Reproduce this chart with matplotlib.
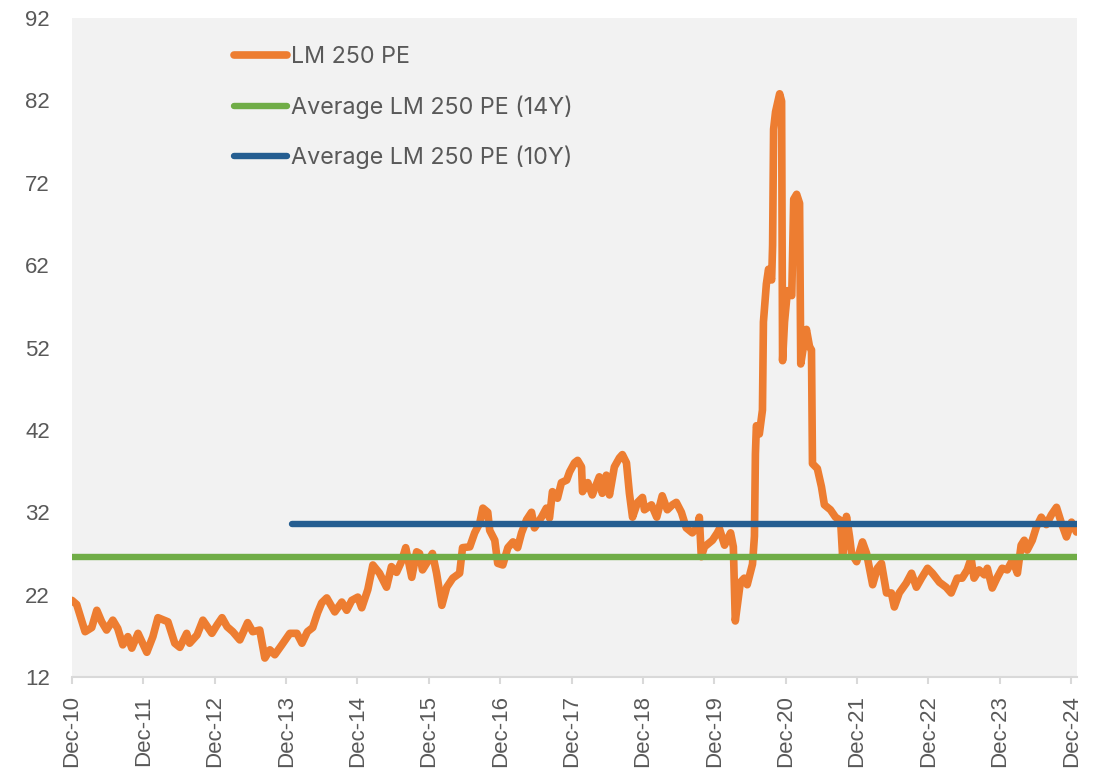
import matplotlib
matplotlib.use("Agg")
import matplotlib.pyplot as plt
import pandas as pd

# ---------------- data ----------------
pe_dates = [
    "2010-12-01", "2010-12-25", "2011-02-06", "2011-03-12", "2011-04-07", "2011-05-02", "2011-05-27",
    "2011-06-28", "2011-07-23", "2011-08-18", "2011-09-13", "2011-10-03", "2011-11-04", "2011-12-19",
    "2012-01-19", "2012-02-14", "2012-04-05", "2012-05-10", "2012-06-05", "2012-07-10", "2012-07-25",
    "2012-09-01", "2012-10-01", "2012-11-16", "2012-12-12", "2013-01-07", "2013-02-02", "2013-03-03",
    "2013-04-08", "2013-05-18", "2013-06-13", "2013-07-19", "2013-08-14", "2013-09-09", "2013-10-04",
    "2013-11-09", "2013-12-20", "2014-01-25", "2014-02-20", "2014-03-20", "2014-04-16", "2014-05-11",
    "2014-06-01", "2014-06-27", "2014-08-07", "2014-09-12", "2014-10-07", "2014-11-02", "2014-12-03",
    "2014-12-23", "2015-01-23", "2015-02-18", "2015-03-24", "2015-04-29", "2015-05-24", "2015-06-19",
    "2015-07-14", "2015-08-05", "2015-09-05", "2015-09-30", "2015-10-15", "2015-10-30", "2015-11-25",
    "2015-12-20", "2016-01-10", "2016-02-06", "2016-03-02", "2016-04-02", "2016-05-07", "2016-05-22",
    "2016-06-28", "2016-07-23", "2016-08-18", "2016-09-03", "2016-09-28", "2016-10-08", "2016-11-03",
    "2016-11-18", "2016-12-14", "2017-01-09", "2017-02-04", "2017-02-28", "2017-03-20", "2017-04-15",
    "2017-05-10", "2017-05-25", "2017-06-30", "2017-07-25", "2017-08-10", "2017-08-25", "2017-09-20",
    "2017-10-10", "2017-11-06", "2017-11-21", "2017-12-16", "2018-01-01", "2018-01-21", "2018-01-26",
    "2018-02-22", "2018-03-17", "2018-04-22", "2018-05-07", "2018-05-28", "2018-06-13", "2018-07-08",
    "2018-08-03", "2018-08-18", "2018-09-08", "2018-09-23", "2018-10-09", "2018-11-04", "2018-11-29",
    "2018-12-09", "2019-01-14", "2019-02-10", "2019-03-10", "2019-04-05", "2019-05-01", "2019-05-21",
    "2019-06-16", "2019-07-11", "2019-08-11", "2019-09-06", "2019-09-16", "2019-09-26", "2019-10-12",
    "2019-11-22", "2019-12-17", "2019-12-28", "2020-01-23", "2020-02-23", "2020-03-08", "2020-03-18",
    "2020-04-13", "2020-05-03", "2020-05-18", "2020-06-14", "2020-06-24", "2020-06-29", "2020-07-04",
    "2020-07-19", "2020-08-04", "2020-08-09", "2020-08-24", "2020-09-04", "2020-09-20", "2020-09-25",
    "2020-09-30", "2020-10-10", "2020-10-31", "2020-11-10", "2020-11-15", "2020-11-25", "2020-12-10",
    "2021-01-01", "2021-01-11", "2021-01-26", "2021-02-10", "2021-02-16", "2021-03-02", "2021-03-17",
    "2021-04-02", "2021-04-12", "2021-04-17", "2021-05-12", "2021-06-02", "2021-06-17", "2021-07-18",
    "2021-08-13", "2021-09-08", "2021-09-18", "2021-09-28", "2021-10-08", "2021-10-24", "2021-11-03",
    "2021-11-29", "2021-12-29", "2022-01-19", "2022-02-19", "2022-03-15", "2022-04-05", "2022-05-01",
    "2022-05-26", "2022-06-10", "2022-07-05", "2022-08-10", "2022-09-06", "2022-10-01", "2022-10-27",
    "2022-11-27", "2022-12-22", "2023-01-27", "2023-03-02", "2023-03-28", "2023-04-28", "2023-05-23",
    "2023-06-18", "2023-07-08", "2023-07-23", "2023-08-18", "2023-09-14", "2023-09-29", "2023-10-24",
    "2023-11-19", "2023-12-14", "2024-01-09", "2024-02-05", "2024-03-01", "2024-03-20", "2024-04-05",
    "2024-04-20", "2024-05-16", "2024-06-06", "2024-07-01", "2024-07-27", "2024-08-22", "2024-09-17",
    "2024-10-12", "2024-11-07", "2024-12-03", "2024-12-28",
]
pe_values = [
    21.3, 20.8, 17.5, 18.0, 20.1, 18.7, 17.7,
    18.9, 17.9, 15.9, 16.9, 15.5, 17.3, 15.0,
    16.9, 19.2, 18.7, 16.1, 15.6, 17.3, 16.1,
    17.1, 18.9, 17.3, 18.3, 19.2, 18.1, 17.5,
    16.5, 18.6, 17.5, 17.7, 14.3, 15.3, 14.7,
    15.9, 17.3, 17.3, 16.1, 17.5, 18.0, 19.8,
    21.0, 21.6, 19.9, 21.1, 20.1, 21.3, 21.7,
    20.4, 22.6, 25.6, 24.6, 22.9, 25.4, 24.7,
    26.0, 27.7, 24.1, 27.2, 27.0, 25.0, 26.0,
    27.0, 24.6, 20.7, 22.9, 24.0, 24.6, 27.7,
    27.8, 29.5, 30.7, 32.5, 32.0, 29.8, 28.6,
    25.8, 25.6, 27.7, 28.4, 27.7, 29.5, 31.1,
    32.0, 30.1, 31.4, 32.5, 31.3, 34.5, 33.7,
    35.6, 35.9, 36.9, 38.0, 38.3, 37.5, 34.5,
    35.6, 34.1, 36.3, 34.3, 36.5, 34.1, 37.5,
    38.6, 39.0, 38.0, 34.3, 31.4, 33.2, 33.8,
    32.3, 32.9, 31.4, 34.0, 32.3, 32.9, 33.2,
    32.0, 30.1, 29.5, 30.2, 31.4, 26.6, 27.8,
    28.6, 29.5, 30.0, 28.0, 29.5, 27.8, 18.8,
    23.5, 24.0, 23.2, 25.7, 29.1, 39.1, 42.5,
    41.5, 44.4, 55.1, 59.7, 61.5, 60.2, 64.4,
    78.5, 80.6, 82.8, 81.9, 50.4, 55.1, 58.9,
    58.3, 70.0, 70.6, 69.5, 50.0, 52.1, 54.2,
    52.1, 51.7, 37.9, 37.3, 35.1, 32.9, 32.3,
    31.4, 31.0, 26.8, 28.5, 31.5, 29.0, 27.0,
    26.0, 28.4, 27.0, 23.2, 25.2, 25.8, 22.2,
    22.2, 20.5, 22.2, 23.4, 24.6, 22.9, 24.0,
    25.2, 24.6, 23.5, 22.9, 22.2, 24.0, 24.0,
    25.0, 26.4, 24.0, 25.0, 24.4, 25.2, 22.8,
    24.1, 25.2, 25.0, 26.2, 24.6, 28.0, 28.6,
    27.4, 28.6, 30.2, 31.4, 30.5, 31.7, 32.6,
    30.7, 29.0, 30.8, 29.6,
]
avg14_dates = ["2010-12-01", "2025-01-01"]
avg14_values = [26.6, 26.6]
avg10_dates = ["2014-01-01", "2025-01-01"]
avg10_values = [30.6, 30.6]

series_labels = ["LM 250 PE", "Average LM 250 PE (14Y)", "Average LM 250 PE (10Y)"]
y_ticks = [12, 22, 32, 42, 52, 62, 72, 82, 92]
x_tick_dates = ["2010-12-01", "2011-12-01", "2012-12-01", "2013-12-01", "2014-12-01",
                "2015-12-01", "2016-12-01", "2017-12-01", "2018-12-01", "2019-12-01",
                "2020-12-01", "2021-12-01", "2022-12-01", "2023-12-01", "2024-12-01"]
x_tick_labels = ["Dec-10", "Dec-11", "Dec-12", "Dec-13", "Dec-14", "Dec-15", "Dec-16",
                 "Dec-17", "Dec-18", "Dec-19", "Dec-20", "Dec-21", "Dec-22", "Dec-23", "Dec-24"]

# ---------------- plot ----------------
ORANGE = "#ED7D31"
GREEN = "#70AD47"
BLUE = "#255E91"
TXT = "#595959"

fig = plt.figure(figsize=(10.97, 7.75), dpi=100)
ax = fig.add_axes([72 / 1097, 1 - 677 / 775, (1077 - 72) / 1097, (677 - 18) / 775])
ax.set_facecolor("#F2F2F2")

ax.plot(pd.to_datetime(avg14_dates), avg14_values, color=GREEN, lw=4.6,
        solid_capstyle="round", label=series_labels[1], zorder=3)
ax.plot(pd.to_datetime(avg10_dates), avg10_values, color=BLUE, lw=4.6,
        solid_capstyle="round", label=series_labels[2], zorder=3)
ax.plot(pd.to_datetime(pe_dates), pe_values, color=ORANGE, lw=5.5,
        solid_capstyle="round", solid_joinstyle="round", label=series_labels[0], zorder=2)

ax.set_xlim(pd.Timestamp("2010-12-01"), pd.Timestamp("2024-12-31"))
ax.set_ylim(12, 92)
ax.set_yticks(y_ticks)
ax.set_yticklabels([str(v) for v in y_ticks], fontsize=16, color=TXT, family="Liberation Sans")
ax.set_xticks(pd.to_datetime(x_tick_dates))
ax.set_xticklabels(x_tick_labels, rotation=90, fontsize=16, color=TXT, family="Liberation Sans")

ax.tick_params(axis="y", length=0, pad=16)
ax.tick_params(axis="x", length=5, width=1.5, color="#D9D9D9", pad=8)
for s in ["top", "right", "left"]:
    ax.spines[s].set_visible(False)
ax.spines["bottom"].set_color("#D9D9D9")
ax.spines["bottom"].set_linewidth(1.5)

handles, labels = ax.get_legend_handles_labels()
order = [2, 0, 1]
leg = ax.legend([handles[i] for i in order], [labels[i] for i in order],
                loc="upper left", bbox_to_anchor=(0.161, 0.957), frameon=False,
                prop={"family": "Inter", "size": 16.8}, handlelength=2.3, handletextpad=0.15,
                labelspacing=1.15, borderpad=0, borderaxespad=0)
for t in leg.get_texts():
    t.set_color(TXT)

fig.savefig("out.png", dpi=100)
